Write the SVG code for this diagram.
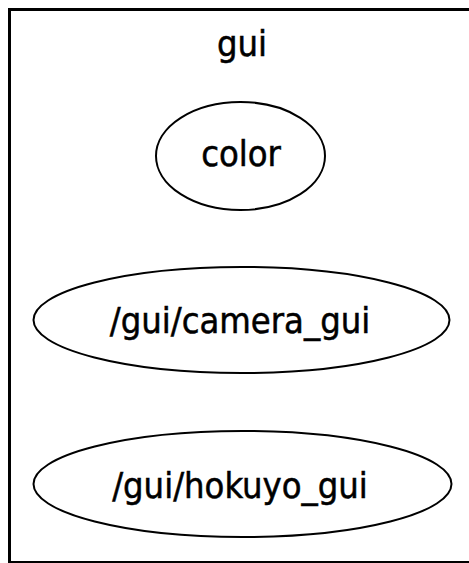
<svg xmlns="http://www.w3.org/2000/svg" width="469" height="563" viewBox="0 0 469 563">
  <style>
    .node ellipse { fill: #ffffff; stroke: #000000; stroke-width: 2; }
    text { font-family: "DejaVu Sans Condensed", "DejaVu Sans", sans-serif; font-stretch: condensed; font-size: 36px; fill: #000000; stroke: #000000; stroke-width: 0.5; text-anchor: middle; }
  </style>
  <rect x="0" y="0" width="469" height="563" fill="#ffffff"/>
  <!-- cluster "gui" -->
  <g id="cluster_gui">
    <rect x="9.5" y="9.5" width="470" height="553" fill="none" stroke="#000000" stroke-width="3"/>
    <text x="242" y="56">gui</text>
  </g>
  <g id="node_color" class="node">
    <ellipse cx="240.5" cy="156" rx="84.5" ry="54"/>
    <text x="241" y="166">color</text>
  </g>
  <g id="node_camera_gui" class="node">
    <ellipse cx="241.5" cy="320" rx="208" ry="53"/>
    <text x="240" y="333">/gui/camera_gui</text>
  </g>
  <g id="node_hokuyo_gui" class="node">
    <ellipse cx="242.5" cy="484" rx="209" ry="53"/>
    <text x="240" y="498">/gui/hokuyo_gui</text>
  </g>
  <g id="edges"></g>
</svg>
